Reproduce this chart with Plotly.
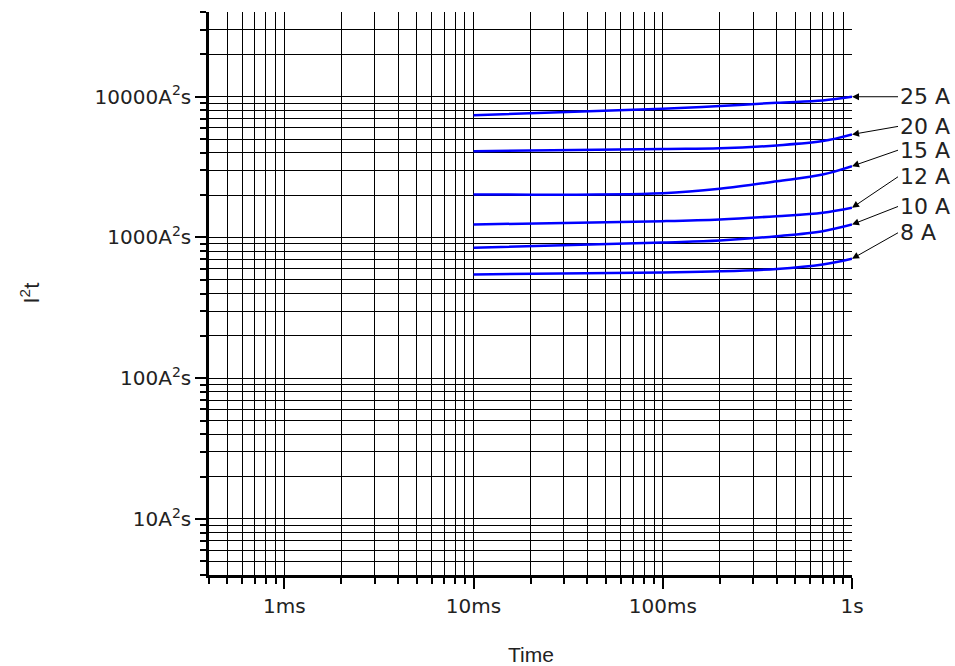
import plotly.graph_objects as go
import numpy as np

# ---- data ----
time_s = [0.01, 0.1, 0.2, 0.4, 0.7, 1.0]
labels = ["25 A", "20 A", "15 A", "12 A", "10 A", "8 A"]
i2t_25 = [7400, 8220, 8580, 9070, 9410, 10000]
i2t_20 = [4100, 4250, 4300, 4510, 4840, 5400]
i2t_15 = [2020, 2065, 2220, 2510, 2800, 3210]
i2t_12 = [1237, 1306, 1343, 1417, 1498, 1626]
i2t_10 = [845, 921, 952, 1021, 1109, 1237]
i2t_8 = [546, 565, 575, 598, 643, 706]
series = [i2t_25, i2t_20, i2t_15, i2t_12, i2t_10, i2t_8]

x_tickvals = [0.001, 0.01, 0.1, 1]
x_ticktext = ["1ms", "10ms", "100ms", "1s"]
y_tickvals = [10, 100, 1000, 10000]
y_ticktext = ["10A<sup>2</sup>s", "100A<sup>2</sup>s", "1000A<sup>2</sup>s", "10000A<sup>2</sup>s"]
digits = [2, 3, 4, 5, 6, 7, 8, 9]
x_minor = [0.0004, 0.0005, 0.0006, 0.0007, 0.0008, 0.0009] + [d * 10.0 ** e for e in (-3, -2, -1) for d in digits]
y_minor = [4, 5, 6, 7, 8, 9] + [d * 10.0 ** e for e in (1, 2, 3) for d in digits] + [20000, 30000, 40000]

# label pixel offsets (text position relative to curve end)
label_dy = [0, -8, -16, -31, -18, -26]

fig = go.Figure()
for name, vals in zip(labels, series):
    fig.add_trace(go.Scatter(x=time_s, y=vals, mode="lines", name=name,
                             line=dict(color="#0000FF", width=2.5, shape="spline", smoothing=1.0),
                             showlegend=False))

for name, vals, dy in zip(labels, series, label_dy):
    fig.add_annotation(x=np.log10(time_s[-1]), y=np.log10(vals[-1]), xref="x", yref="y",
                       text=name, showarrow=True, ax=46, ay=dy, axref="pixel", ayref="pixel",
                       xanchor="left", yanchor="middle",
                       arrowhead=2, arrowsize=1.4, arrowwidth=1, arrowcolor="black",
                       font=dict(family="DejaVu Sans", size=22, color="#222"))

fig.add_annotation(text="Time", xref="paper", yref="paper", x=0.5, y=0, yshift=-79,
                   showarrow=False, yanchor="middle",
                   font=dict(family="Liberation Sans", size=21, color="#222"))
fig.add_annotation(text="I<sup>2</sup>t", xref="paper", yref="paper", x=0, xshift=-180, y=0.5,
                   showarrow=False, textangle=-90, xanchor="center",
                   font=dict(family="Liberation Sans", size=22, color="#222"))

axis_common = dict(
    showline=True, linewidth=2.5, linecolor="black",
    ticks="outside", ticklen=11, tickwidth=2, tickcolor="black",
    showgrid=True, gridcolor="black", gridwidth=1, zeroline=False,
    tickfont=dict(family="DejaVu Sans", size=20, color="#222"),
)

fig.update_xaxes(type="log", range=[np.log10(0.0004), 0], tickmode="array",
                 tickvals=x_tickvals, ticktext=x_ticktext,
                 minor=dict(tickmode="array", tickvals=x_minor, ticks="outside", ticklen=6,
                            tickwidth=2, tickcolor="black", showgrid=True,
                            gridcolor="black", gridwidth=1),
                 **axis_common)
fig.update_yaxes(type="log", range=[np.log10(4), np.log10(40000)], tickmode="array",
                 tickvals=y_tickvals, ticktext=y_ticktext,
                 minor=dict(tickmode="array", tickvals=y_minor, ticks="outside", ticklen=6,
                            tickwidth=2, tickcolor="black", showgrid=True,
                            gridcolor="black", gridwidth=1),
                 **axis_common)

fig.update_layout(width=955, height=666, margin=dict(l=209, r=103, t=12, b=91),
                  plot_bgcolor="white", paper_bgcolor="white", showlegend=False)

fig.write_html("out.html", config={"displayModeBar": False},
               post_script="document.body.style.margin='0';"
                           "document.documentElement.style.overflow='hidden';"
                           "document.body.style.overflow='hidden';")
